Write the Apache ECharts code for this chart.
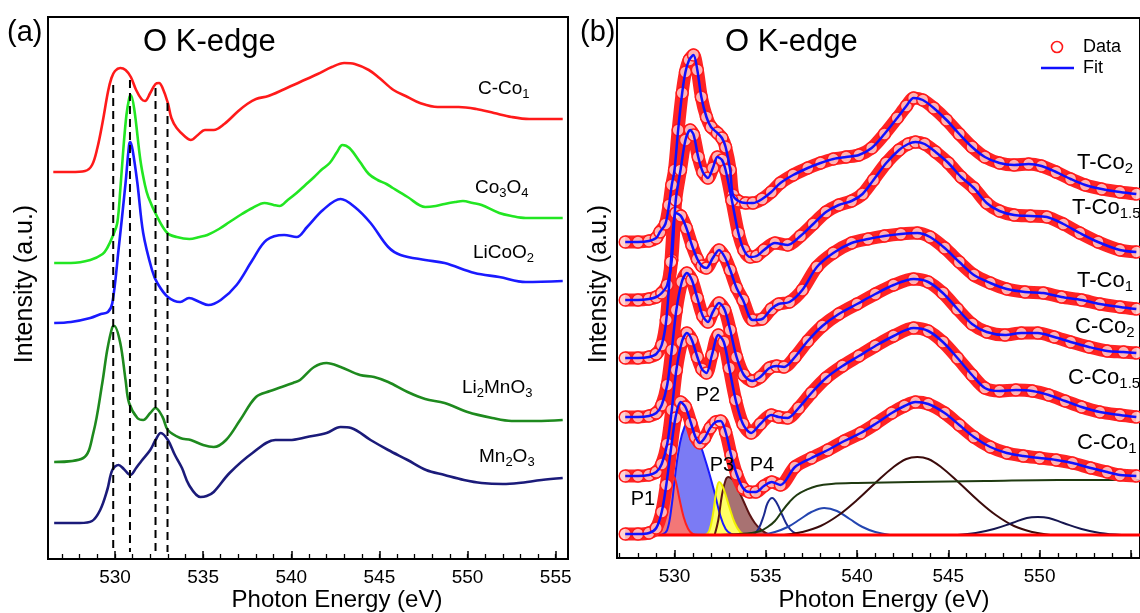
<!DOCTYPE html>
<html><head><meta charset="utf-8">
<script src="https://cdn.jsdelivr.net/npm/echarts@6/dist/echarts.min.js"></script>
<style>html,body{margin:0;padding:0;background:#fff}#c{width:1140px;height:613px}</style>
</head><body><div id="c"></div>
<script>
const FONT = '"Liberation Sans", Arial, Helvetica, sans-serif';

// ================= panel (a) =================
const aCCo1E = [526.5,527.5,528.3,528.7,529.0,529.3,529.6,529.8,530.0,530.3,530.6,530.9,531.2,531.5,531.7,532.0,532.3,532.5,532.7,533.0,533.2,533.5,534.0,534.3,534.7,535.1,535.6,536.2,537.0,537.5,538.0,538.7,539.5,540.5,541.5,542.3,543.0,543.6,544.4,545.0,545.8,546.6,547.3,548.3,549.5,550.5,551.5,552.5,553.5,554.5,555.4];
const aCCo1I = [387,387,388,394,411,437,467,481,488,491,489,482,469,460,458,466,475,476,471,456,441,431,422,419,424,429,429,435,448,455,460,463,469,477,485,492,496,495,489,481,469,462,456,452,452,450,446,442,440,440,440];
const aCo3O4E = [526.55,527.5,528.6,529.3,529.56,529.9,530.13,530.3,530.47,530.65,530.81,530.9,531.1,531.44,531.7,531.89,532.4,532.97,533.5,534.22,534.8,535.24,535.9,536.5,537.2,537.8,538.48,539.0,539.34,539.8,540.3,540.8,541.3,541.7,542.18,542.6,542.9,543.3,543.9,544.4,544.9,545.4,545.76,546.6,547.6,548.2,548.7,549.3,549.74,550.3,550.8,551.8,552.5,553.3,554.3,555.4];
const aCo3O4I = [296,296,299,305,311,324,336,369,409,444,461,464,449,399,374,362,342,326,322,320,322,324,330,337,345,351,356,354,353,359,366,374,382,389,396,407,414,411,397,385,379,375,371,362,352,353,355,357,358,356,354,346,343,341,341,341];
const aLiCoO2E = [526.55,527.5,528.6,529.2,529.6,529.85,530.2,530.6,530.8,530.87,531.0,531.27,531.6,532.1,532.4,533.0,533.7,534.2,534.8,535.3,536.0,536.9,537.8,538.6,539.6,540.3,540.9,541.8,542.8,543.6,544.5,545.5,546.2,547.6,548.7,550.4,551.8,553.3,555.4];
const aLiCoO2I = [236,237,241,245,247,256,309,376,414,417,409,376,326,289,276,262,257,261,257,254,259,274,299,319,324,322,332,349,360,352,336,312,304,299,296,286,282,277,278];
const aLi2MnO3E = [526.55,528.2,528.77,529.28,529.56,529.85,529.96,530.3,530.6,530.8,531.27,531.6,532.0,532.3,532.7,533.0,533.7,534.3,535.0,535.6,536.3,537.1,538.0,538.8,540.1,540.5,541.3,542.0,542.8,543.9,544.7,545.5,546.6,547.6,548.7,550.0,551.4,552.5,553.9,555.4];
const aLi2MnO3I = [97,101,126,176,209,232,233,216,179,156,141,139,146,151,142,129,121,119,114,112,119,139,162,168,176,179,192,196,192,184,182,177,167,160,156,147,141,138,138,139];
const aMn2O3E = [526.55,528.0,528.7,529.16,529.56,529.85,530.2,530.5,530.87,531.2,531.5,532.0,532.3,532.6,533.0,533.4,533.8,534.2,534.85,535.2,535.6,536.5,537.8,539.1,539.9,540.9,542.0,542.8,543.4,544.5,545.5,546.6,547.65,548.7,549.8,550.8,552.0,552.9,554.2,555.4];
const aMn2O3I = [36,36,38,49,69,89,94,90,84,91,98,109,119,126,119,104,91,74,62,63,67,86,106,119,119,122,126,132,131,119,109,99,89,84,79,76,75,76,79,81];
const dashE = [529.9, 530.85, 532.3, 532.98];
const dashTop = [474, 479, 471, 456];
const dashBottom = [7, 7, 7, 7];
const ticksMajorA = [530,535,540,545,550,555];
const ticksMinorA = [527,528,529,530,531,532,533,534,535,536,537,538,539,540,541,542,543,544,545,546,547,548,549,550,551,552,553,554,555];

// ================= panel (b) =================
const bTCo2E = [527.3,528.0,528.6,529.0,529.2,529.5,529.7,529.85,530.0,530.2,530.42,530.6,530.8,531.04,531.25,531.47,531.75,532.0,532.35,532.6,532.8,533.05,533.2,533.5,533.9,534.3,534.8,535.3,535.8,536.5,537.3,538.0,538.7,539.4,540.1,540.8,541.5,542.2,542.7,543.1,543.6,544.2,544.9,545.6,546.3,547.0,547.8,548.6,549.4,550.1,550.9,551.7,552.5,553.4,554.4,555.3];
const bTCo2I = [293,293,294,297,303,311,330,350,365,405,442,463,475,480,465,438,418,408,402,397,388,365,340,334,332,332,336,343,352,360,367,372,376,378,380,387,401,417,429,437,435,427,415,401,388,378,372,370,371,369,363,356,350,346,343,341];
const bTCo15E = [527.3,528.0,528.6,529.0,529.3,529.6,529.85,530.07,530.33,530.6,530.86,531.05,531.3,531.55,531.83,532.1,532.35,532.6,532.8,533.14,533.5,533.8,534.15,534.5,534.9,535.5,536.2,536.9,537.6,538.3,539.0,539.7,540.3,540.9,541.6,542.3,542.8,543.2,543.7,544.3,545.0,545.7,546.4,547.1,547.8,548.6,549.5,550.4,551.3,552.2,553.2,554.4,555.3];
const bTCo15I = [235,235,236,238,242,250,275,335,365,395,405,400,378,363,357,367,378,375,365,335,302,285,278,279,285,292,290,299,311,323,330,334,341,355,372,385,391,393,391,383,372,358,347,332,324,320,319,318,311,302,293,285,283];
const bTCo1E = [527.3,528.0,528.6,529.0,529.3,529.55,529.8,530.07,530.35,530.65,530.95,531.25,531.5,531.74,532.1,532.44,532.75,533.05,533.4,533.75,534.28,534.8,535.3,535.7,536.3,537.0,537.8,538.7,539.7,540.6,541.5,542.4,543.3,544.0,544.8,545.6,546.4,547.3,548.2,549.2,550.2,551.2,552.3,553.3,554.4,555.3];
const bTCo1I = [177,177,178,181,190,215,273,322,319,307,290,276,269,267,277,285,278,265,247,235,215,216,226,231,233,245,268,282,292,296,299,301,302,298,287,273,260,252,246,243,242,238,235,231,228,226];
const bCCo2E = [527.3,528.0,528.6,529.0,529.3,529.6,529.85,530.1,530.4,530.68,530.95,531.25,531.55,531.83,532.1,532.44,532.75,533.05,533.4,533.8,534.25,534.7,535.2,535.6,536.0,536.6,537.3,538.1,539.0,540.0,541.0,542.0,543.1,543.9,544.7,545.5,546.3,547.1,548.1,549.0,549.9,550.8,551.7,552.7,553.7,554.6,555.3];
const bCCo2I = [118,118,119,122,130,150,185,225,253,262,255,237,219,213,223,232,225,205,178,160,154,158,167,169,168,178,194,209,221,231,241,250,256,253,242,226,211,203,200,202,202,198,193,188,184,183,182];
const bCCo15E = [527.3,528.0,528.6,529.0,529.3,529.6,529.85,530.1,530.4,530.68,530.95,531.25,531.5,531.75,532.05,532.4,532.7,533.0,533.35,533.75,534.2,534.7,535.3,535.7,536.2,536.8,537.5,538.3,539.2,540.1,541.0,542.0,543.1,543.9,544.7,545.5,546.3,547.0,547.8,548.7,549.6,550.5,551.4,552.3,553.3,554.4,555.3];
const bCCo15I = [59,59,60,63,71,91,125,165,193,202,195,178,166,162,180,200,193,167,135,111,102,111,120,118,117,127,142,157,169,179,189,199,207,204,193,177,160,147,144,145,144,140,134,128,123,120,118];
const bCCo1E = [527.3,528.0,528.6,529.0,529.3,529.55,529.8,530.05,530.33,530.6,530.9,531.15,531.38,531.65,531.95,532.25,532.53,532.8,533.1,533.4,533.75,534.1,534.46,534.9,535.33,535.8,536.6,537.5,538.4,539.3,540.2,541.0,541.9,542.6,543.2,543.9,544.8,545.6,546.4,547.3,548.2,549.1,550.0,550.9,551.8,552.8,553.7,554.4,555.3];
const bCCo1I = [1,1,2,7,23,50,85,117,133,128,112,98,92,97,107,113,114,103,80,61,47,43,43,49,53,50,68,77,85,94,102,111,122,129,133,131,122,110,98,88,82,79,77,75,72,67,63,60,59];

// fitted components of C-Co1
const p1E = [529.0,529.2,529.4,529.6,529.75,529.9,530.05,530.25,530.5,530.75,531.0,531.3];
const p1I = [0,3,12,30,48,59,55,38,18,6,1,0];
const p2E = [529.3,529.6,529.85,530.05,530.3,530.55,530.75,531.0,531.3,531.6,531.9,532.2,532.5,532.8,533.1,533.4];
const p2I = [0,5,30,62,92,108,112,108,96,80,62,42,20,6,1,0];
const p3E = [531.7,531.9,532.1,532.3,532.45,532.6,532.8,533.0,533.3,533.6,533.9];
const p3I = [0,4,20,45,53,50,40,28,12,3,0];
const p4E = [532.2,532.4,532.6,532.8,532.95,533.2,533.5,533.8,534.1,534.4,534.7,535.0,535.3];
const p4I = [0,15,40,55,58,55,45,33,21,12,6,2,0];
const g535E = [534.3,534.6,534.9,535.1,535.35,535.6,535.9,536.2,536.5,536.9];
const g535I = [0,6,20,32,37,32,20,9,3,0];
const g538E = [534.8,535.5,536.2,536.9,537.5,538.2,538.9,539.6,540.3,541.0,541.8];
const g538I = [0,3,8,16,23,27,24,16,8,3,0];
const g543E = [536.0,537.0,538.0,539.0,540.0,541.0,542.0,542.7,543.3,543.9,544.6,545.6,546.6,547.6,548.6,549.6,550.6];
const g543I = [0,3,9,20,35,52,68,76,78,76,68,52,35,20,9,3,0];
const g550E = [545.5,546.5,547.5,548.5,549.3,549.9,550.5,551.3,552.3,553.3,554.5];
const g550I = [0,2,6,12,17,18,17,12,6,2,0];
const stepE = [532.5,533.5,534.2,534.7,535.1,535.5,535.9,536.3,536.7,537.2,537.8,538.6,540.0,543.0,547.0,551.0,555.5];
const stepI = [0,1,2,4,8,14,24,33,40,45,49,51,52,53,54,55,55];
const baseE = [527.3, 555.5];
const baseI = [0, 0];
const ticksMajorB = [530,535,540,545,550,555];
const labelsB = [530,535,540,545,550];
const ticksMinorB = [527,528,529,530,531,532,533,534,535,536,537,538,539,540,541,542,543,544,545,546,547,548,549,550,551,552,553,554,555];

// ================= build =================
const pair = (E, I) => E.map((e, i) => [e, I[i]]);
const chart = echarts.init(document.getElementById('c'), null, {renderer: 'canvas'});

function xMajor(grid, min, max, ticks, labels) {
  return {gridIndex: grid, type: 'value', min: min, max: max, position: 'bottom',
    axisLine: {show: true, onZero: false, lineStyle: {color: '#000', width: 2}},
    axisTick: {show: true, inside: true, length: 8, customValues: ticks, lineStyle: {color: '#000', width: 1.5}},
    axisLabel: {show: true, customValues: labels, fontSize: 19, color: '#000', margin: 9, fontFamily: FONT},
    splitLine: {show: false}};
}
function xMinor(grid, min, max, ticks) {
  return {gridIndex: grid, type: 'value', min: min, max: max, position: 'bottom',
    axisLine: {show: false, onZero: false},
    axisTick: {show: true, inside: true, length: 5, customValues: ticks, lineStyle: {color: '#000', width: 1.3}},
    axisLabel: {show: false}, splitLine: {show: false}};
}
function yAx(grid, min, max) {
  return {gridIndex: grid, type: 'value', min: min, max: max,
    axisLine: {show: true, onZero: false, lineStyle: {color: '#000', width: 2}},
    axisTick: {show: false}, axisLabel: {show: false}, splitLine: {show: false}};
}

const series = [];
const aCurves = [
  [aCCo1E, aCCo1I, '#ff1a1a'], [aCo3O4E, aCo3O4I, '#22e622'], [aLiCoO2E, aLiCoO2I, '#1a1aff'],
  [aLi2MnO3E, aLi2MnO3I, '#1e8a1e'], [aMn2O3E, aMn2O3I, '#1b1b7a']
];
aCurves.forEach(c => series.push({type: 'line', xAxisIndex: 0, yAxisIndex: 0, data: pair(c[0], c[1]),
  smooth: 0.35, symbol: 'none', lineStyle: {color: c[2], width: 2.6}, z: 3}));
dashE.forEach((e, i) => series.push({type: 'line', xAxisIndex: 0, yAxisIndex: 0,
  data: [[e, dashTop[i]], [e, dashBottom[i]]], symbol: 'none',
  lineStyle: {color: '#000', width: 2, type: [8, 5]}, z: 4}));

// components (panel b): P2 at the back, then P4, P3 and P1 in front
function comp(E, I, stroke, fill, z) {
  const s = {type: 'line', xAxisIndex: 2, yAxisIndex: 1, data: pair(E, I), smooth: 0.4, symbol: 'none',
    lineStyle: {color: stroke, width: 2}, z: z};
  if (fill) s.areaStyle = {color: fill, opacity: 1};
  return s;
}
series.push(comp(p2E, p2I, '#1a1aff', '#7b7bf4', 2));
series.push(comp(p4E, p4I, '#5c1414', '#a87272', 2));
series.push(comp(p3E, p3I, '#f0f000', '#ffff66', 2));
series.push(comp(p1E, p1I, '#ff2020', '#f37777', 2));
series.push(comp(g535E, g535I, '#1c2a90', null, 2));
series.push(comp(g538E, g538I, '#2445b0', null, 2));
series.push(comp(g543E, g543I, '#3b0b0b', null, 2));
series.push(comp(g550E, g550I, '#16164f', null, 2));
series.push(comp(stepE, stepI, '#1f3a10', null, 2));
series.push({type: 'line', xAxisIndex: 2, yAxisIndex: 1, data: pair(baseE, baseI), symbol: 'none',
  lineStyle: {color: '#ff0000', width: 3}, z: 2});

const bSpectra = [[bTCo2E, bTCo2I], [bTCo15E, bTCo15I], [bTCo1E, bTCo1I], [bCCo2E, bCCo2I], [bCCo15E, bCCo15I], [bCCo1E, bCCo1I]];
bSpectra.forEach(s => series.push({name: 'Data', type: 'line', xAxisIndex: 2, yAxisIndex: 1, data: pair(s[0], s[1]),
  smooth: 0.3, symbol: 'circle', symbolSize: 12, showSymbol: true, showAllSymbol: true,
  lineStyle: {color: '#ff2424', width: 13},
  itemStyle: {color: 'rgba(255,205,205,0.85)', borderColor: '#ff1a1a', borderWidth: 1.5}, z: 5}));
bSpectra.forEach(s => series.push({name: 'Fit', type: 'line', xAxisIndex: 2, yAxisIndex: 1, data: pair(s[0], s[1]),
  smooth: 0.3, symbol: 'none', lineStyle: {color: '#1010ff', width: 2.5}, z: 6}));

function txt(x, y, text, size, align) {
  return {type: 'text', z: 100, style: {x: x, y: y, text: text, fill: '#000', font: size + 'px ' + FONT,
    align: align || 'left', verticalAlign: 'middle'}};
}
function subTxt(x, y, text, size, sub) {
  return {type: 'text', z: 100, style: {x: x, y: y, text: text, fill: '#000', align: 'left', verticalAlign: 'middle',
    rich: {m: {fontSize: size, fontFamily: FONT, lineHeight: size + 4, fill: '#000'},
           s: {fontSize: sub, fontFamily: FONT, lineHeight: 10, verticalAlign: 'bottom', fill: '#000'}}}};
}

const graphic = [
  txt(7, 33, '(a)', 29), txt(580, 33, '(b)', 29),
  txt(143, 42, 'O K-edge', 31), txt(725, 42, 'O K-edge', 31),
  txt(337, 600, 'Photon Energy (eV)', 24, 'center'), txt(884, 600, 'Photon Energy (eV)', 24, 'center'),
  {type: 'text', z: 100, x: 25, y: 284, rotation: Math.PI / 2,
    style: {x: 0, y: 0, text: 'Intensity (a.u.)', fill: '#000', font: '25px ' + FONT, align: 'center', verticalAlign: 'middle'}},
  {type: 'text', z: 100, x: 599, y: 284, rotation: Math.PI / 2,
    style: {x: 0, y: 0, text: 'Intensity (a.u.)', fill: '#000', font: '25px ' + FONT, align: 'center', verticalAlign: 'middle'}},
  subTxt(478, 89, '{m|C-Co}{s|1}', 19, 13),
  subTxt(475, 188, '{m|Co}{s|3}{m|O}{s|4}', 19, 13),
  subTxt(473, 253, '{m|LiCoO}{s|2}', 19, 13),
  subTxt(462, 388, '{m|Li}{s|2}{m|MnO}{s|3}', 19, 13),
  subTxt(479, 457, '{m|Mn}{s|2}{m|O}{s|3}', 19, 13),
  subTxt(1077, 163, '{m|T-Co}{s|2}', 22, 15),
  subTxt(1072, 208, '{m|T-Co}{s|1.5}', 22, 15),
  subTxt(1077, 281, '{m|T-Co}{s|1}', 22, 15),
  subTxt(1075, 327, '{m|C-Co}{s|2}', 22, 15),
  subTxt(1068, 378, '{m|C-Co}{s|1.5}', 22, 15),
  subTxt(1077, 443, '{m|C-Co}{s|1}', 22, 15),
  txt(643, 499, 'P1', 20, 'center'), txt(708, 395, 'P2', 20, 'center'),
  txt(722, 465, 'P3', 20, 'center'), txt(762, 465, 'P4', 20, 'center'),
  {type: 'circle', z: 100, shape: {cx: 1057, cy: 47, r: 5.5}, style: {fill: 'none', stroke: '#ff1a1a', lineWidth: 1.6}},
  txt(1083, 47, 'Data', 18),
  {type: 'line', z: 100, shape: {x1: 1041, y1: 68, x2: 1074, y2: 68}, style: {stroke: '#1010ff', lineWidth: 2.5}},
  txt(1083, 68, 'Fit', 18)
];

chart.setOption({
  animation: false,
  backgroundColor: '#fff',
  grid: [
    {left: 48, top: 17, width: 520, height: 542, show: true, borderColor: '#000', borderWidth: 2, backgroundColor: 'transparent'},
    {left: 617, top: 18, width: 544.35, height: 540, show: true, borderColor: '#000', borderWidth: 2, backgroundColor: 'transparent'}
  ],
  xAxis: [
    xMajor(0, 526.2, 555.7, ticksMajorA, ticksMajorA),
    xMinor(0, 526.2, 555.7, ticksMinorA),
    xMajor(1, 526.85, 555.5, ticksMajorB, labelsB),
    xMinor(1, 526.85, 555.5, ticksMinorB)
  ],
  yAxis: [yAx(0, 0, 542), yAx(1, -23, 517)],
  series: series,
  graphic: graphic
});
</script>
</body></html>
